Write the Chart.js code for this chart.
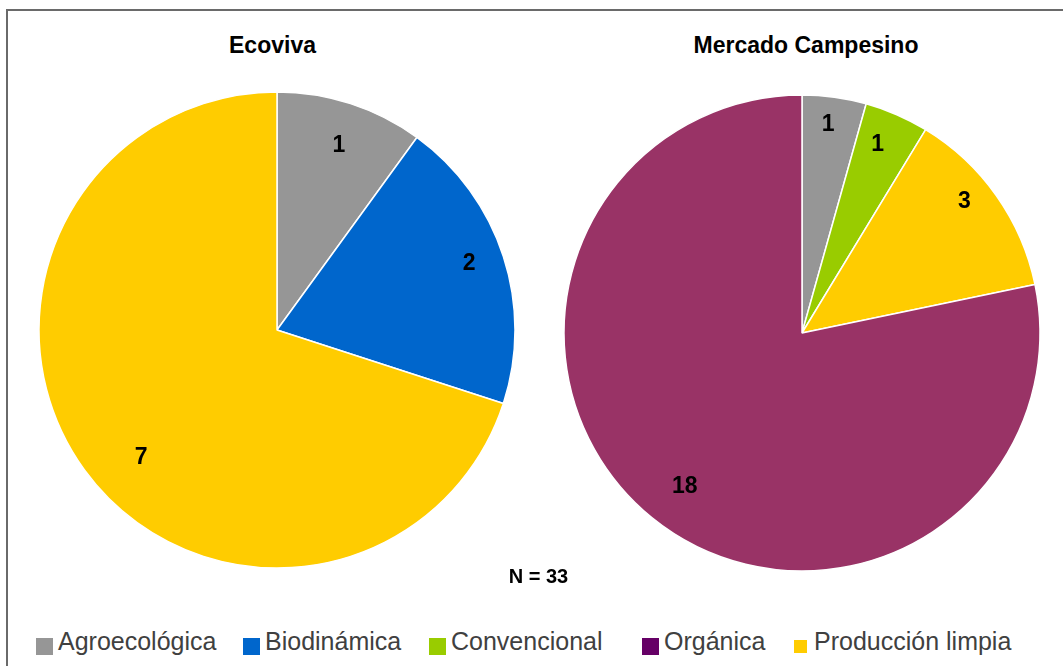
<!DOCTYPE html>
<html>
<head>
<meta charset="utf-8">
<script src="https://cdn.jsdelivr.net/npm/chart.js@4/dist/chart.umd.min.js"></script>
<style>
  html, body { margin: 0; padding: 0; width: 1063px; height: 666px; overflow: hidden; background: #fff; font-family: "Liberation Sans", Arial, sans-serif; position: relative; }
  #frame { position: absolute; left: 6px; top: 9px; width: 1057px; height: 657px; border-left: 2px solid #6a6a6a; border-top: 2px solid #6a6a6a; box-sizing: border-box; }
  canvas { position: absolute; }
  .title { position: absolute; width: 400px; text-align: center; font-weight: bold; font-size: 23px; line-height: 23px; color: #000; }
  #ntext { position: absolute; width: 200px; text-align: center; font-weight: bold; font-size: 20px; line-height: 20px; color: #000; }
  .item { position: absolute; top: 629px; display: flex; align-items: flex-start; white-space: nowrap; }
  .sw { width: 17px; height: 17px; margin-top: 9px; margin-right: 5px; box-sizing: border-box; }
  .lt { font-size: 25px; line-height: 25px; color: #404040; }
</style>
</head>
<body>
<div id="frame"></div>
<canvas id="c1" width="500" height="500" style="left:27px; top:80px;"></canvas>
<canvas id="c2" width="500" height="500" style="left:552px; top:83px;"></canvas>
<div class="title" style="left:72.5px; top:33.5px;">Ecoviva</div>
<div class="title" style="left:606px; top:33.5px;">Mercado Campesino</div>
<div id="ntext" style="left:438.5px; top:566px;">N = 33</div>
<div id="legend"></div>
<script>
// ---- data ----
const categories = ['Agroecológica', 'Biodinámica', 'Convencional', 'Orgánica', 'Producción limpia'];
const ecovivaLabels = ['Agroecológica', 'Biodinámica', 'Producción limpia'];
const ecovivaValues = [1, 2, 7];
const mercadoLabels = ['Agroecológica', 'Convencional', 'Producción limpia', 'Orgánica'];
const mercadoValues = [1, 1, 3, 18];
const totalN = 33;

// ---- styles / layout ----
const sliceColors = {
  'Agroecológica': '#969696',
  'Biodinámica': '#0066CC',
  'Convencional': '#99CC00',
  'Orgánica': '#993366',
  'Producción limpia': '#FFCC00'
};
const legendColors = {
  'Agroecológica': '#969696',
  'Biodinámica': '#0066CC',
  'Convencional': '#99CC00',
  'Orgánica': '#660066',
  'Producción limpia': '#FFCC00'
};
const legendLeft = [36, 243, 429, 642, 792];
// small per-label nudges (px) to mimic the original's best-fit label placement
const ecovivaNudge = [[0, 5], [2, -6], [26, 9]];
const mercadoNudge = [[-1, -11], [-4, -6], [-1, -17], [9, -2]];

document.getElementById('ntext').textContent = 'N = ' + totalN;

function labelPlugin(nudge) {
  return {
    id: 'sliceLabels',
    afterDatasetsDraw(chart) {
      const ctx = chart.ctx;
      const meta = chart.getDatasetMeta(0);
      const data = chart.data.datasets[0].data;
      ctx.save();
      ctx.font = 'bold 23px "Liberation Sans", Arial, sans-serif';
      ctx.fillStyle = '#000';
      ctx.textAlign = 'center';
      ctx.textBaseline = 'middle';
      meta.data.forEach((arc, i) => {
        const p = arc.getProps(['x', 'y', 'startAngle', 'endAngle', 'outerRadius'], true);
        const mid = (p.startAngle + p.endAngle) / 2;
        const r = p.outerRadius * 0.84;
        const n = nudge[i] || [0, 0];
        ctx.fillText(String(data[i]), p.x + Math.cos(mid) * r + n[0], p.y + Math.sin(mid) * r + 1 + n[1]);
      });
      ctx.restore();
    }
  };
}

function makePie(id, labels, values, nudge) {
  return new Chart(document.getElementById(id), {
    type: 'pie',
    data: {
      labels: labels,
      datasets: [{
        data: values,
        backgroundColor: labels.map(l => sliceColors[l]),
        borderColor: '#ffffff',
        borderWidth: 1.5,
        radius: 238
      }]
    },
    options: {
      responsive: false,
      animation: false,
      layout: { padding: 0 },
      plugins: { legend: { display: false }, tooltip: { enabled: false }, title: { display: false } }
    },
    plugins: [labelPlugin(nudge)]
  });
}

makePie('c1', ecovivaLabels, ecovivaValues, ecovivaNudge);
makePie('c2', mercadoLabels, mercadoValues, mercadoNudge);

// legend
const lg = document.getElementById('legend');
categories.forEach((c, i) => {
  const it = document.createElement('div');
  it.className = 'item';
  it.style.left = legendLeft[i] + 'px';
  const sw = document.createElement('div');
  sw.className = 'sw';
  sw.style.background = legendColors[c];
  if (c === 'Producción limpia') { sw.style.border = '2px solid #fff'; }
  const t = document.createElement('span');
  t.className = 'lt';
  t.textContent = c;
  it.appendChild(sw);
  it.appendChild(t);
  lg.appendChild(it);
});
</script>
</body>
</html>
